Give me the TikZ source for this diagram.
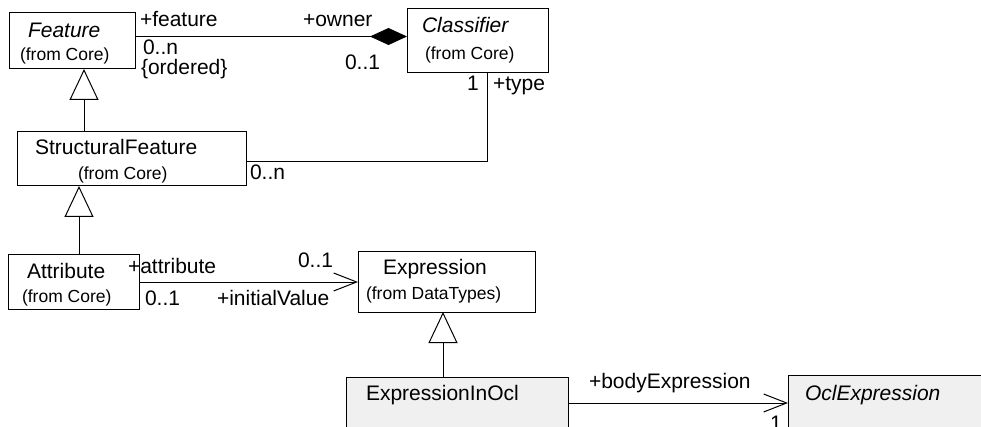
\documentclass[tikz,border=0pt]{standalone}
\usepackage{fontspec}
\setmainfont{Liberation Sans}
\usetikzlibrary{arrows.meta}
\definecolor{boxgray}{HTML}{F0F0F0}
\begin{document}
\begin{tikzpicture}[x=1pt,y=-1pt,line width=1pt,
  box/.style={draw=black,fill=white,line width=1pt,inner sep=0pt,outer sep=0pt},
  graybox/.style={box,fill=boxgray},
  lbl/.style={inner sep=0pt,outer sep=0pt,anchor=base west,font=\fontsize{21}{25}\selectfont},
  lbli/.style={lbl,font=\fontsize{21}{25}\selectfont\itshape},
  sml/.style={inner sep=0pt,outer sep=0pt,anchor=base west,font=\fontsize{17.5}{21}\selectfont},
  gen/.style={-{Triangle[length=31pt,width=29pt,fill=white]}},
  comp/.style={-{Diamond[length=37pt,width=17pt]}},
  nav/.style={-{Straight Barb[length=23pt,width=18pt]}}]
\useasboundingbox (0,0) rectangle (981,427);
\clip (0,0) rectangle (981,427);

% boxes
\node[box,minimum width=126pt,minimum height=56pt] (feature) at (72,41) {};
\node[box,minimum width=141pt,minimum height=64pt] (classifier) at (477.5,41) {};
\node[box,minimum width=229pt,minimum height=54pt] (sf) at (131.5,159) {};
\node[box,minimum width=131pt,minimum height=54pt] (attr) at (73.5,282) {};
\node[box,minimum width=177pt,minimum height=60pt] (expr) at (446.5,282) {};
\node[graybox,minimum width=222pt,minimum height=93pt] (eio) at (457,423.5) {};
\node[graybox,minimum width=212pt,minimum height=95pt] (ocl) at (894,422.5) {};

% box texts
\node[lbli] (featureName) at (28,38) {Feature};
\node[sml] (featureFrom) at (20,61) {(from Core)};
\node[lbli] (classifierName) at (422,33) {Classifier};
\node[sml] (classifierFrom) at (425,60) {(from Core)};
\node[lbl] (sfName) at (35,155) {StructuralFeature};
\node[sml] (sfFrom) at (78,180) {(from Core)};
\node[lbl] (attrName) at (27,278) {Attribute};
\node[sml] (attrFrom) at (22,302) {(from Core)};
\node[lbl] (exprName) at (383,275) {Expression};
\node[sml] (exprFrom) at (366,299) {(from DataTypes)};
\node[lbl] (eioName) at (366,400) {ExpressionInOcl};
\node[lbli] (oclName) at (805,400) {OclExpression};

% connectors
\draw[comp] ([yshift=4.5pt]feature.east) -- ([yshift=4.5pt]classifier.west);
\draw (classifier.south -| 487,0) |- (sf.east |- 0,162);
\draw[gen] (sf.north -| 84,0) -- (feature.south -| 84,0);
\draw[gen] (attr.north -| 79,0) -- (sf.south -| 79,0);
\draw[nav] (attr.east) -- (expr.west);
\draw[gen] (eio.north -| 443,0) -- (expr.south -| 443,0);
\draw[nav] (eio.east |- 0,403) -- (ocl.west |- 0,403);

% connector labels
\node[lbl] (lFeature) at (140,27) {+feature};
\node[lbl] (lOwner) at (303,27) {+owner};
\node[lbl] (mFeature) at (143,55) {0..n};
\node[lbl] (oFeature) at (141,75) {\{ordered\}};
\node[lbl] (mOwner) at (345,70) {0..1};
\node[lbl] (mType) at (467,91) {1};
\node[lbl] (lType) at (493,91) {+type};
\node[lbl] (mSf) at (250,180) {0..n};
\node[lbl] (lAttr) at (128,273) {+attribute};
\node[lbl] (mExpr) at (298,268) {0..1};
\node[lbl] (mAttr) at (145,305) {0..1};
\node[lbl] (lInit) at (217,305) {+initialValue};
\node[lbl] (lBody) at (589,388) {+bodyExpression};
\node[lbl] (mBody) at (770,430) {1};
\end{tikzpicture}
\end{document}
